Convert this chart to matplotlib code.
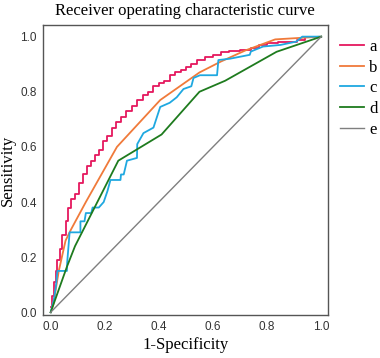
import matplotlib
matplotlib.use("Agg")
import matplotlib.pyplot as plt

labels = ["a", "b", "c", "d", "e"]
colors = ["#E5185E", "#F07A3A", "#1FA8E0", "#1E7B1E", "#7F7F7F"]

a_x = [0, 0.005, 0.012, 0.02, 0.025, 0.035, 0.043, 0.055, 0.065, 0.075, 0.09, 0.105, 0.12, 0.135, 0.15,
       0.165, 0.18, 0.195, 0.21, 0.225, 0.24, 0.26, 0.28, 0.30, 0.32, 0.34, 0.36, 0.38, 0.40, 0.42, 0.44,
       0.46, 0.48, 0.50, 0.52, 0.54, 0.57, 0.60, 0.63, 0.66, 0.70, 0.74, 0.77, 0.80, 0.84, 0.88, 0.91, 0.94, 1.0]
a_y = [0.02, 0.06, 0.11, 0.15, 0.19, 0.23, 0.28, 0.33, 0.38, 0.41, 0.43, 0.47, 0.50, 0.53, 0.55,
       0.57, 0.59, 0.62, 0.64, 0.67, 0.69, 0.71, 0.73, 0.75, 0.77, 0.79, 0.80, 0.82, 0.83, 0.84, 0.86,
       0.87, 0.88, 0.89, 0.90, 0.915, 0.925, 0.935, 0.946, 0.948, 0.952, 0.958, 0.968, 0.976, 0.98, 0.982, 0.988, 1.0, 1.0]

b_x = [0, 0.01, 0.03, 0.055, 0.075, 0.13, 0.245, 0.405, 0.55, 0.63, 0.72, 0.83, 1.0]
b_y = [0, 0.03, 0.15, 0.26, 0.30, 0.40, 0.60, 0.77, 0.87, 0.91, 0.95, 0.99, 1.0]

c_x = [0, 0.012, 0.02, 0.025, 0.06, 0.061, 0.07, 0.11, 0.11, 0.125, 0.13, 0.15, 0.155, 0.178, 0.196,
       0.21, 0.221, 0.258, 0.26, 0.27, 0.282, 0.319, 0.32, 0.343, 0.38, 0.39, 0.405, 0.44, 0.466, 0.491,
       0.52, 0.528, 0.552, 0.615, 0.62, 0.663, 0.736, 0.74, 0.785, 0.85, 0.908, 0.93, 1.0]
c_y = [0, 0.045, 0.10, 0.15, 0.15, 0.18, 0.29, 0.29, 0.33, 0.33, 0.36, 0.36, 0.38, 0.38, 0.40,
       0.44, 0.48, 0.48, 0.50, 0.50, 0.55, 0.56, 0.61, 0.65, 0.67, 0.70, 0.745, 0.76, 0.78, 0.81,
       0.82, 0.85, 0.86, 0.86, 0.915, 0.92, 0.934, 0.946, 0.964, 0.97, 0.982, 1.0, 1.0]

d_x = [0, 0.06, 0.09, 0.25, 0.41, 0.55, 0.645, 0.835, 1.0]
d_y = [0, 0.165, 0.24, 0.55, 0.645, 0.80, 0.84, 0.945, 1.0]

e_x = [0, 1]
e_y = [0, 1]

fig = plt.figure(figsize=(3.8, 3.58), dpi=100)
ax = fig.add_axes([0.112, 0.120, 0.751, 0.810])

series = [(a_x, a_y), (b_x, b_y), (c_x, c_y), (d_x, d_y), (e_x, e_y)]
for (xs, ys), lab, col in zip(series, labels, colors):
    lw = 1.0 if lab == "e" else 1.3
    ds = "steps-post" if lab == "a" else "default"
    ax.plot(xs, ys, color=col, lw=lw, label=lab, drawstyle=ds)

ax.set_xlim(-0.03, 1.025)
ax.set_ylim(-0.01, 1.042)
ticks = [0.0, 0.2, 0.4, 0.6, 0.8, 1.0]
ax.set_xticks(ticks)
ax.set_yticks(ticks)
ax.set_xticklabels([f"{t:.1f}" for t in ticks], fontfamily="Liberation Sans", fontsize=8.5, color="#333333")
ax.set_yticklabels([f"{t:.1f}" for t in ticks], fontfamily="Liberation Sans", fontsize=8.5, color="#333333")
ax.tick_params(length=0, pad=4)
for s in ax.spines.values():
    s.set_color("#555555")
    s.set_linewidth(1.0)

ax.set_title("Receiver operating characteristic curve", fontfamily="Liberation Serif", fontsize=12, pad=7)
ax.set_xlabel("1-Specificity", fontfamily="Liberation Serif", fontsize=12, labelpad=3)
ax.set_ylabel("Sensitivity", fontfamily="Liberation Serif", fontsize=12, labelpad=3)

leg = ax.legend(loc="upper left", bbox_to_anchor=(1.02, 0.975), frameon=False,
                prop={"family": "Liberation Serif", "size": 12},
                handlelength=1.4, handletextpad=0.35, labelspacing=0.28, borderaxespad=0.0)

fig.savefig("out.png", dpi=100)
